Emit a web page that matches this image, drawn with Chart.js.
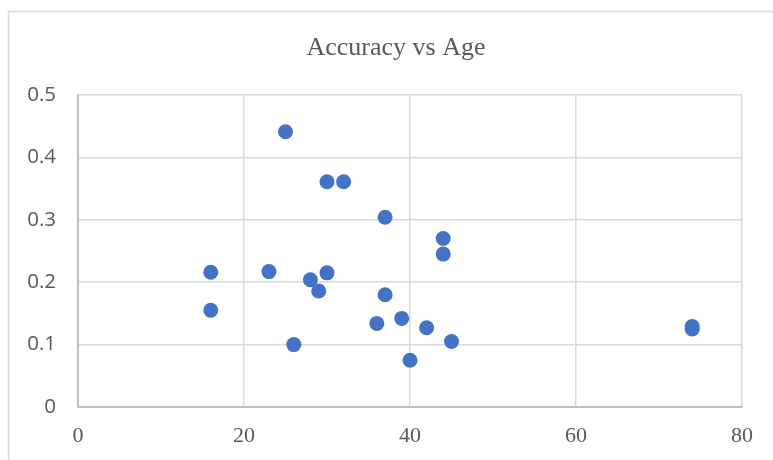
<!DOCTYPE html>
<html>
<head>
<meta charset="utf-8">
<script src="https://cdn.jsdelivr.net/npm/chart.js@4/dist/chart.umd.min.js"></script>
<style>
  html, body { margin: 0; padding: 0; background: #fff; }
  #wrap { width: 773px; height: 460px; }
</style>
</head>
<body>
<div id="wrap"><canvas id="scatter-chart" width="773" height="460"></canvas></div>
<script>
// data
const chartTitle = 'Accuracy vs Age';
const ages = [16, 16, 23, 25, 26, 28, 29, 30, 30, 32, 36, 37, 37, 39, 40, 42, 44, 44, 45, 74, 74];
const accuracy = [0.216, 0.155, 0.217, 0.441, 0.100, 0.204, 0.186, 0.361, 0.215, 0.361, 0.134, 0.304, 0.180, 0.142, 0.075, 0.127, 0.270, 0.245, 0.105, 0.129, 0.125];
const xTicks = [0, 20, 40, 60, 80];
const yTicks = [0, 0.1, 0.2, 0.3, 0.4, 0.5];

const points = ages.map((a, i) => ({x: a, y: accuracy[i]}));

// outer frame + title, like the Excel chart box
const frame = {
  id: 'frame',
  beforeDraw(chart) {
    const ctx = chart.ctx;
    ctx.save();
    ctx.fillStyle = '#fff';
    ctx.fillRect(0, 0, chart.width, chart.height);
    ctx.strokeStyle = '#d9d9d9';
    ctx.lineWidth = 1.5;
    ctx.strokeRect(8.5, 11.5, 820, 520);
    ctx.restore();
  },
  afterDraw(chart) {
    const ctx = chart.ctx;
    ctx.save();
    ctx.fillStyle = '#595959';
    ctx.font = '26px "Liberation Serif", "Times New Roman", serif';
    ctx.textAlign = 'center';
    ctx.textBaseline = 'middle';
    ctx.fillText(chartTitle, 396, 48);
    ctx.restore();
  }
};

new Chart(document.getElementById('scatter-chart'), {
  type: 'scatter',
  data: {
    datasets: [{
      data: points,
      backgroundColor: '#4472c4',
      borderColor: '#4472c4',
      borderWidth: 0,
      pointRadius: 7.5,
      pointHoverRadius: 7.5
    }]
  },
  options: {
    responsive: false,
    animation: false,
    layout: {padding: {top: 95, right: 31, left: 0, bottom: 0}},
    plugins: {legend: {display: false}, title: {display: false}, tooltip: {enabled: false}},
    scales: {
      x: {
        type: 'linear',
        min: 0, max: 80,
        afterBuildTicks: s => { s.ticks = xTicks.map(v => ({value: v})); },
        afterFit: s => { s.height = 53; },
        grid: {color: '#d9d9d9', lineWidth: 1.5, drawTicks: false},
        border: {color: '#bfbfbf', width: 2},
        ticks: {
          padding: 16,
          color: '#595959',
          font: {family: '"Liberation Serif", "Times New Roman", serif', size: 22}
        }
      },
      y: {
        min: 0, max: 0.5,
        afterBuildTicks: s => { s.ticks = yTicks.map(v => ({value: v})); },
        afterFit: s => { s.width = 78; },
        grid: {color: '#d9d9d9', lineWidth: 1.5, drawTicks: false},
        border: {color: '#bfbfbf', width: 2},
        ticks: {
          padding: 22,
          color: '#595959',
          font: {family: '"Open Sans", "Liberation Sans", sans-serif', size: 20.5},
          callback: v => String(+v.toFixed(1))
        }
      }
    }
  },
  plugins: [frame]
});
</script>
</body>
</html>
